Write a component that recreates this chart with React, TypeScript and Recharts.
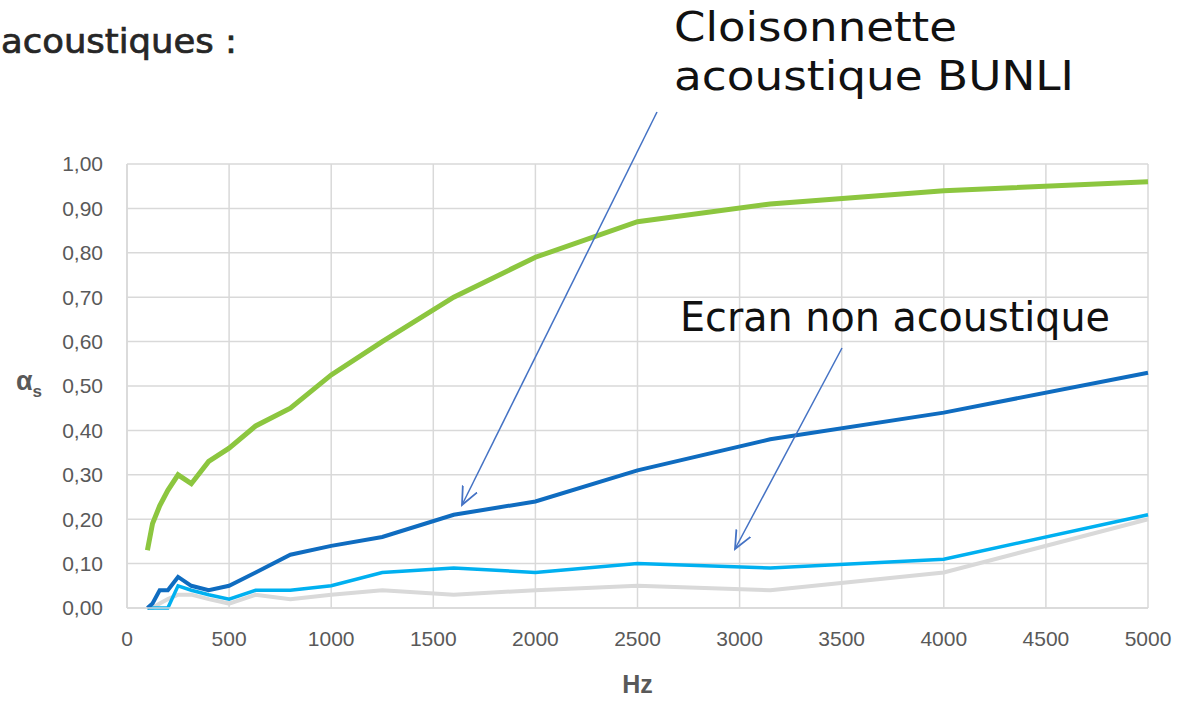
import { LineChart, Line, XAxis, YAxis, CartesianGrid, Label } from 'recharts';

// third-octave bands (Hz)
const freqs = [100, 125, 160, 200, 250, 315, 400, 500, 630, 800, 1000, 1250, 1600, 2000, 2500, 3150, 4000, 5000];

const bunli = [0.13, 0.19, 0.23, 0.265, 0.3, 0.28, 0.33, 0.36, 0.41, 0.45, 0.525, 0.6, 0.7, 0.79, 0.87, 0.91, 0.94, 0.96];
const ecranDark = [0.0, 0.01, 0.04, 0.04, 0.07, 0.05, 0.04, 0.05, 0.08, 0.12, 0.14, 0.16, 0.21, 0.24, 0.31, 0.38, 0.44, 0.53];
const ecranLight = [0.0, 0.0, 0.0, 0.0, 0.05, 0.04, 0.03, 0.02, 0.04, 0.04, 0.05, 0.08, 0.09, 0.08, 0.1, 0.09, 0.11, 0.21];
const ecranGrey = [0.0, 0.0, 0.01, 0.02, 0.03, 0.03, 0.02, 0.01, 0.03, 0.02, 0.03, 0.04, 0.03, 0.04, 0.05, 0.04, 0.08, 0.2];

const xTicks = [0, 500, 1000, 1500, 2000, 2500, 3000, 3500, 4000, 4500, 5000];
const yTicks = [0, 0.1, 0.2, 0.3, 0.4, 0.5, 0.6, 0.7, 0.8, 0.9, 1.0];

const data = freqs.map((hz, i) => ({
  hz,
  grey: ecranGrey[i],
  light: ecranLight[i],
  dark: ecranDark[i],
  green: bunli[i],
}));

const axisFont = 'Liberation Sans, Arial, sans-serif';
const tickStyle = { fill: '#595959', fontSize: 21, fontFamily: axisFont };
const annotFont = 'DejaVu Sans, sans-serif';

function AlphaLabel({ viewBox }: any) {
  const y = viewBox.y + viewBox.height / 2;
  return (
    <text x={16} y={y + 4} fill="#595959" fontWeight="bold" fontSize={27} fontFamily={axisFont}>
      α<tspan fontSize={17} dy={7}>s</tspan>
    </text>
  );
}

export default function App() {
  return (
    <div style={{ position: 'absolute', left: 0, top: 0, width: 1189, height: 701, background: '#fff', overflow: 'hidden' }}>
      <LineChart width={1189} height={701} data={data} margin={{ top: 164, right: 41, bottom: 0, left: 0 }}>
        <CartesianGrid stroke="#d9d9d9" strokeWidth={1.5} />
        <XAxis
          type="number"
          dataKey="hz"
          domain={[0, 5000]}
          ticks={xTicks}
          height={93}
          axisLine={{ stroke: '#d9d9d9', strokeWidth: 1.5 }}
          tickLine={false}
          tickSize={0}
          tickMargin={23}
          tick={tickStyle}
        >
          <Label value="Hz" position="insideBottom" offset={8} fill="#595959" fontWeight="bold" fontSize={25} fontFamily={axisFont} />
        </XAxis>
        <YAxis
          type="number"
          domain={[0, 1]}
          ticks={yTicks}
          width={127}
          axisLine={{ stroke: '#d9d9d9', strokeWidth: 1.5 }}
          tickLine={false}
          tickSize={0}
          tickMargin={24}
          tick={tickStyle}
          tickFormatter={(v: number) => v.toFixed(2).replace('.', ',')}
        >
          <Label content={<AlphaLabel />} />
        </YAxis>
        <Line type="linear" dataKey="grey" stroke="#d9d9d9" strokeWidth={4} dot={false} isAnimationActive={false} />
        <Line type="linear" dataKey="light" stroke="#00b0f0" strokeWidth={3.5} dot={false} isAnimationActive={false} />
        <Line type="linear" dataKey="dark" stroke="#0f6cc0" strokeWidth={4} dot={false} isAnimationActive={false} />
        <Line type="linear" dataKey="green" stroke="#8cc63f" strokeWidth={5} dot={false} isAnimationActive={false} />
      </LineChart>
      <svg width={1189} height={701} style={{ position: 'absolute', left: 0, top: 0, pointerEvents: 'none' }}>
        <defs>
          <marker id="arr" viewBox="0 0 20 20" refX={18} refY={10} markerWidth={20} markerHeight={20} markerUnits="userSpaceOnUse" orient="auto">
            <polyline points="0,2 18,10 0,18" fill="none" stroke="#4472c4" strokeWidth={1.8} />
          </marker>
        </defs>
        <text x={1} y={53} fontFamily={annotFont} fontSize={33} fill="#262626" stroke="#262626" strokeWidth={0.7} textLength={236} lengthAdjust="spacingAndGlyphs">acoustiques :</text>
        <text x={674} y={41} fontFamily={annotFont} fontSize={40} fill="#111" textLength={283} lengthAdjust="spacingAndGlyphs">Cloisonnette</text>
        <text x={674} y={90} fontFamily={annotFont} fontSize={40} fill="#111" textLength={400} lengthAdjust="spacingAndGlyphs">acoustique BUNLI</text>
        <text x={680} y={331} fontFamily={annotFont} fontSize={40} fill="#111" textLength={430} lengthAdjust="spacingAndGlyphs">Ecran non acoustique</text>
        <line x1={657} y1={112} x2={462} y2={505} stroke="#4472c4" strokeWidth={1.5} markerEnd="url(#arr)" />
        <line x1={842} y1={348} x2={735} y2={549} stroke="#4472c4" strokeWidth={1.5} markerEnd="url(#arr)" />
      </svg>
    </div>
  );
}
